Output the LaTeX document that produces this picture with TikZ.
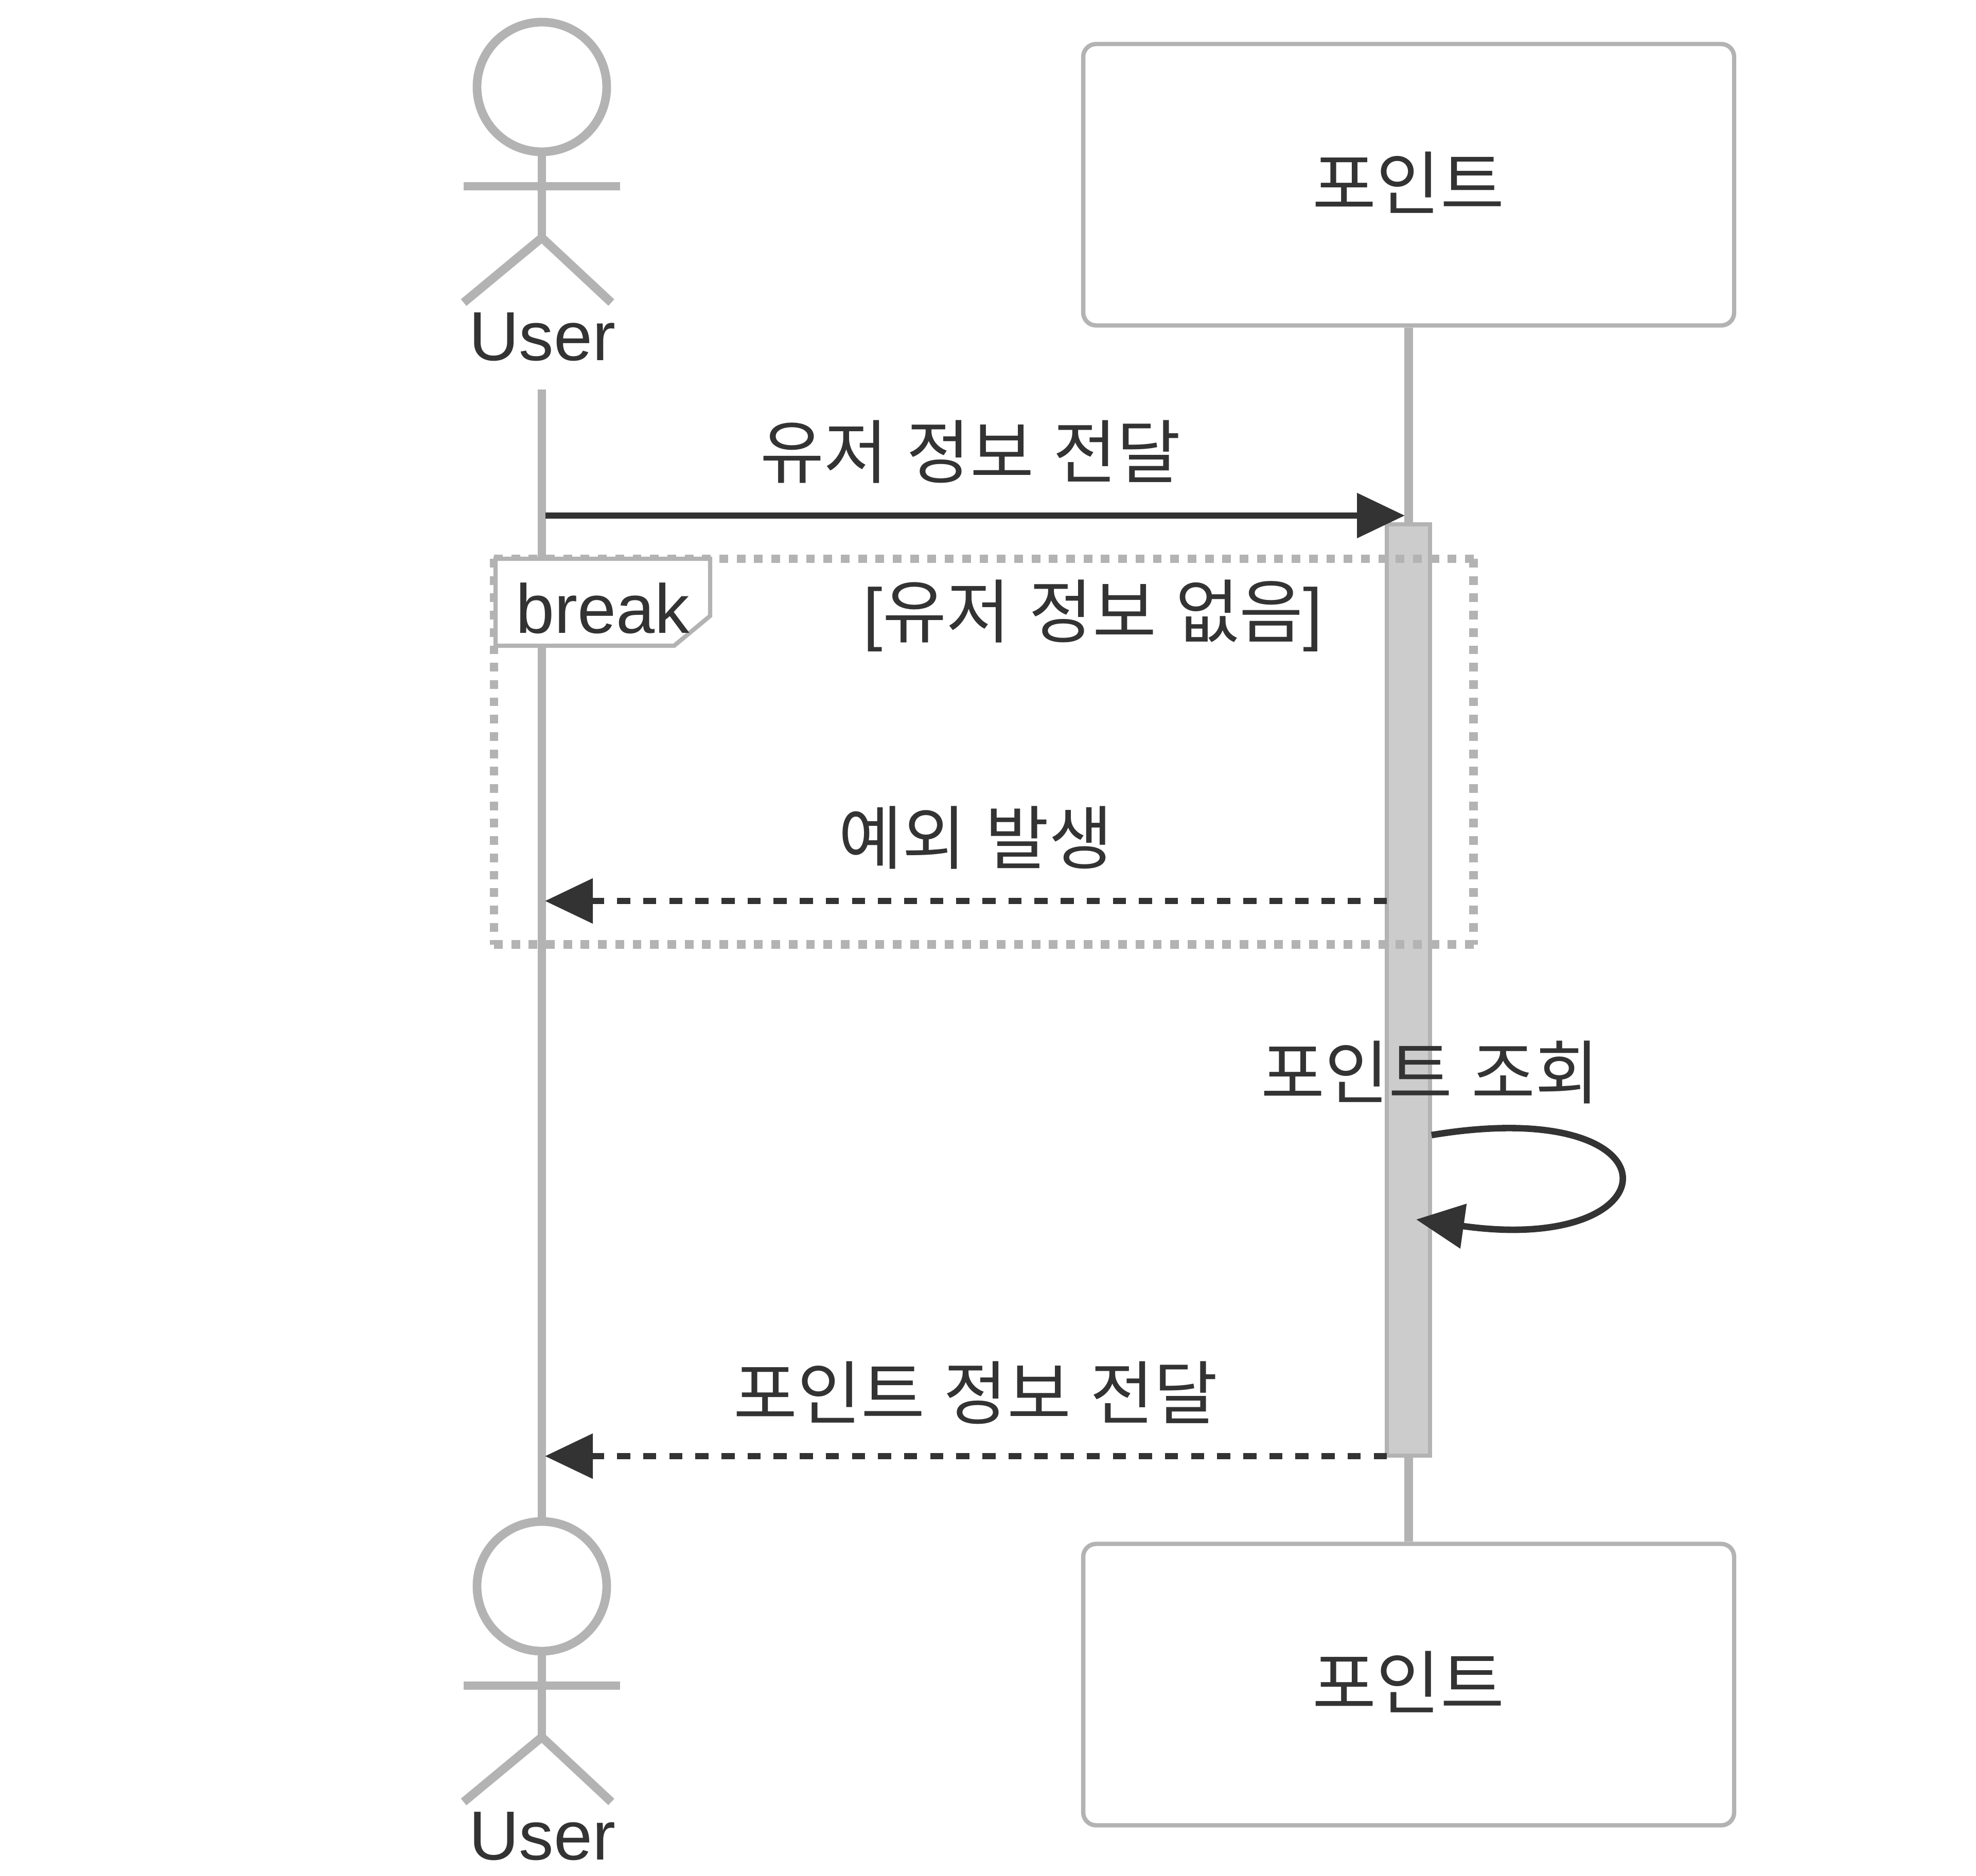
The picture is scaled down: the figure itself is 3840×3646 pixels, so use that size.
\documentclass[tikz,border=0pt]{standalone}
\usepackage{fontspec}
\setmainfont{Liberation Sans}
\newfontfamily\cjk[WordSpace=1.2]{Noto Sans CJK KR}
\usetikzlibrary{arrows.meta}

\begin{document}
\begin{tikzpicture}[x=0.1pt, y=-0.1pt, >={Triangle[length=9.3pt, width=8.5pt]}]
  \definecolor{lineGray}{HTML}{B3B3B3}
  \definecolor{textDark}{HTML}{333333}
  \definecolor{activeGray}{HTML}{CCCCCC}
  \tikzstyle{actorLine} = [draw=lineGray, line width=1.69pt];
  \tikzstyle{actorHead} = [actorLine, circle, minimum size=25.2pt, inner sep=0pt];
  \tikzstyle{actorBox} = [draw=lineGray, line width=0.84pt, rectangle, rounded corners=2.5pt, minimum width=126.5pt, minimum height=54.7pt, inner sep=0pt];
  \tikzstyle{msgText} = [text=textDark, font={\fontsize{13.5pt}{16pt}\selectfont}, inner sep=0pt, anchor=base];
  \tikzstyle{msgEdge} = [draw=textDark, line width=1.26pt, ->];
  \tikzstyle{msgDashed} = [msgEdge, dash pattern=on 2.55pt off 2.52pt];
  \tikzstyle{activeBox} = [draw=lineGray, fill=activeGray, line width=0.84pt, rectangle, minimum width=8.4pt, minimum height=181pt, inner sep=0pt];
  \tikzstyle{frameLine} = [draw=lineGray, line width=1.69pt, dash pattern=on 1.69pt off 1.68pt];

  \useasboundingbox (0,0) rectangle (3840,3646);

  % actor figures, top and bottom
  \foreach \nm/\dy in {A/0,B/2914} {
    \node[actorHead] (userHead\nm) at (1053,169+\dy) {};
    \coordinate (userHip\nm) at (1053,462+\dy);
    \coordinate (userArmL\nm) at (901,362+\dy);
    \coordinate (userArmR\nm) at (1205,362+\dy);
    \coordinate (userLegL\nm) at (901,588+\dy);
    \coordinate (userLegR\nm) at (1188,588+\dy);
    \draw[actorLine] (userHead\nm) -- (userHip\nm);
    \draw[actorLine] (userArmL\nm) -- (userArmR\nm);
    \draw[actorLine] (userLegL\nm) -- (userHip\nm) -- (userLegR\nm);
    \node[msgText] (userText\nm) at (1054,700+\dy) {User};
  }
  \node[actorBox] (pointA) at (2737.5,359) {};
  \node[actorBox] (pointB) at (2737.5,3274) {};
  \node[msgText] (pointTextA) at (2737,406) {\cjk 포인트};
  \node[msgText] (pointTextB) at (2737,3320) {\cjk 포인트};

  % lifelines
  \coordinate (userStart) at (1053,757);
  \draw[actorLine] (userStart) -- (userHeadB);
  \draw[actorLine] (pointA) -- (pointB);

  \node[activeBox] (active) at (2737,1924) {};

  % break frame
  \coordinate (frameTL) at (960,1086);
  \coordinate (frameTR) at (2863.5,1086);
  \coordinate (frameBL) at (960,1835.5);
  \coordinate (frameBR) at (2863.5,1835.5);
  \draw[frameLine] (frameTL) -- (frameTR);
  \draw[frameLine] (frameTR) -- (frameBR);
  \draw[frameLine] (frameBL) -- (frameBR);
  \draw[frameLine] (frameTL) -- (frameBL);
  \coordinate (tagA) at (963,1086);
  \coordinate (tagB) at (1380,1086);
  \coordinate (tagC) at (1380,1197);
  \coordinate (tagD) at (1310,1255);
  \coordinate (tagE) at (963,1255);
  \draw[draw=lineGray, fill=white, line width=0.84pt] (tagA) -- (tagB) -- (tagC) -- (tagD) -- (tagE) -- cycle;
  \node[msgText] (breakText) at (1171,1230) {break};
  \node[msgText] (frameTitle) at (2124,1238) {[{\cjk 유저 정보 없음}]};

  % messages
  \coordinate (sendStart) at (1060,1002);
  \coordinate (sendEnd) at (2730,1002);
  \draw[msgEdge] (sendStart) -- (sendEnd);
  \node[msgText] (sendText) at (1886,928) {\cjk 유저 정보 전달};

  \coordinate (errStart) at (2695,1751);
  \coordinate (errEnd) at (1059,1751);
  \draw[msgDashed] (errStart) -- (errEnd);
  \node[msgText] (errText) at (1896,1678) {\cjk 예외 발생};

  \coordinate (selfStart) at (2782,2206);
  \coordinate (selfEnd) at (2752,2370);
  \draw[msgEdge] (selfStart) .. controls (3275,2124) and (3260,2442) .. (selfEnd);
  \node[msgText] (selfText) at (2779,2134) {\cjk 포인트 조회};

  \coordinate (backStart) at (2695,2830);
  \coordinate (backEnd) at (1059,2830);
  \draw[msgDashed] (backStart) -- (backEnd);
  \node[msgText] (backText) at (1896,2757) {\cjk 포인트 정보 전달};
\end{tikzpicture}
\end{document}
